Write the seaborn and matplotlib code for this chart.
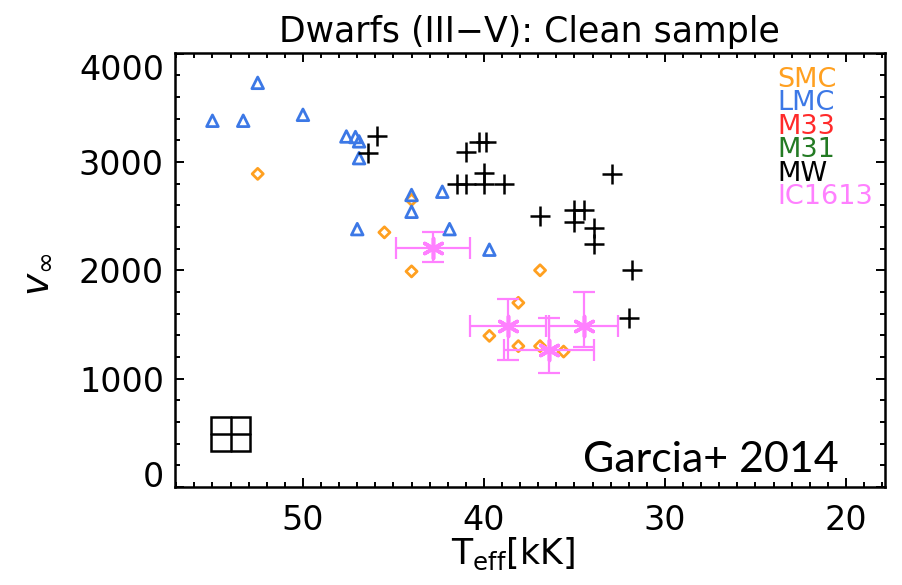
import matplotlib
matplotlib.use("Agg")
import matplotlib.pyplot as plt
import numpy as np
import pandas as pd
import seaborn as sns
from matplotlib.patches import Rectangle
from matplotlib.ticker import MultipleLocator

# --- data: effective temperature [kK] and terminal wind velocity [km/s] ---
smc_teff = [52.5, 45.5, 44.0, 44.0, 36.9, 38.1, 39.7, 38.1, 36.9, 35.6]
smc_vinf = [2890, 2350, 2650, 1990, 2000, 1700, 1395, 1300, 1300, 1250]

lmc_teff = [52.5, 55.0, 53.3, 50.0, 47.6, 47.1, 46.9, 46.9, 44.0, 44.0,
            42.3, 47.0, 41.9, 39.7]
lmc_vinf = [3730, 3380, 3380, 3435, 3235, 3230, 3190, 3035, 2695, 2540,
            2725, 2380, 2380, 2190]

mw_teff = [45.9, 46.4, 41.0, 40.3, 39.9, 41.5, 41.0, 40.0, 38.9, 40.0,
           36.9, 35.0, 34.5, 35.0, 33.9, 33.9, 32.9, 31.8, 32.0]
mw_vinf = [3240, 3080, 3095, 3185, 3185, 2800, 2800, 2800, 2800, 2900,
           2505, 2557, 2557, 2446, 2391, 2243, 2890, 2003, 1557]

ic_teff = [42.8, 38.65, 36.4, 34.5]
ic_vinf = [2205, 1486, 1260, 1486]
ic_teff_err = [2.05, 2.1, 2.5, 1.9]
ic_vinf_err_lo = [125, 315, 210, 195]
ic_vinf_err_hi = [150, 245, 300, 310]

# typical uncertainty box
box_teff = [52.9, 55.1]
box_vinf = [330, 646]

galaxies = ["SMC", "LMC", "M33", "M31", "MW", "IC1613"]
galaxy_colors = ["#FFA020", "#3C78E6", "#FF2A2A", "#237A23", "#000000", "#FF80FF"]

x_ticks = [50, 40, 30, 20]
y_ticks = [0, 1000, 2000, 3000, 4000]

sns.set_theme(style="white")
plt.rcParams["font.family"] = ["DejaVu Sans"]
plt.rcParams["mathtext.fontset"] = "dejavusans"
plt.rcParams["text.color"] = "black"
plt.rcParams["axes.labelcolor"] = "black"

col = dict(zip(galaxies, galaxy_colors))

fig = plt.figure(figsize=(9.02, 5.85), dpi=100)
ax = fig.add_axes([0.194, 0.1675, 0.787, 0.742])


def hollow(color, lw):
    c = ax.collections[-1]
    c.set_facecolor("none")
    c.set_edgecolor(color)
    c.set_linewidth(lw)


smc = pd.DataFrame({"teff": smc_teff, "vinf": smc_vinf})
lmc = pd.DataFrame({"teff": lmc_teff, "vinf": lmc_vinf})
mw = pd.DataFrame({"teff": mw_teff, "vinf": mw_vinf})
ic = pd.DataFrame({"teff": ic_teff, "vinf": ic_vinf})

sns.scatterplot(data=smc, x="teff", y="vinf", marker="D", s=32, color=col["SMC"],
                ax=ax, legend=False, zorder=3)
hollow(col["SMC"], 2.0)

sns.scatterplot(data=lmc, x="teff", y="vinf", marker="^", s=70, color=col["LMC"],
                ax=ax, legend=False, zorder=4)
hollow(col["LMC"], 2.0)

sns.scatterplot(data=mw, x="teff", y="vinf", marker="+", s=190, color=col["MW"],
                linewidth=1.8, ax=ax, legend=False, zorder=5)

ax.errorbar(ic["teff"], ic["vinf"], xerr=ic_teff_err,
            yerr=[ic_vinf_err_lo, ic_vinf_err_hi], fmt="none",
            ecolor=col["IC1613"], elinewidth=1.6, capsize=8, capthick=1.6, zorder=6)
sns.scatterplot(data=ic, x="teff", y="vinf", marker=(6, 2, 0), s=210,
                color=col["IC1613"], linewidth=2.6, ax=ax, legend=False, zorder=7)
c = ax.collections[-1]
c.set_edgecolor(col["IC1613"])
c.set_linewidth(2.6)

# uncertainty box with cross
ax.add_patch(Rectangle((box_teff[0], box_vinf[0]), box_teff[1] - box_teff[0],
                       box_vinf[1] - box_vinf[0], fill=False, ec="black", lw=1.8, zorder=5))
ax.plot([np.mean(box_teff)] * 2, box_vinf, color="black", lw=1.8)
ax.plot(box_teff, [np.mean(box_vinf)] * 2, color="black", lw=1.8)

ax.set_xlim(57.07, 17.85)
ax.set_ylim(0, 4006)

ax.set_xticks(x_ticks)
ax.set_yticks(y_ticks)
ax.xaxis.set_minor_locator(MultipleLocator(1))
ax.yaxis.set_minor_locator(MultipleLocator(200))
ax.tick_params(which="both", direction="in", top=True, right=True, bottom=True,
               left=True, width=1.4, colors="black", labelsize=24)
ax.tick_params(which="major", length=6.5, pad=12)
ax.tick_params(which="minor", length=3.6)
ax.tick_params(axis="y", pad=8)
for s in ax.spines.values():
    s.set_linewidth(1.8)
    s.set_color("black")

ylabels = ax.get_yticklabels()
ylabels[0].set_va("baseline")
ylabels[-1].set_va("top")

ax.set_xlabel(r"T$_{\rm eff}$[kK]", fontsize=25)
ax.xaxis.set_label_coords((513 - 175) / 710, -0.155)
ax.xaxis.label.set_va("center")
ax.set_ylabel(r"$v_{\infty}$", fontsize=27)
ax.yaxis.set_label_coords(-0.195, 0.49)
ax.yaxis.label.set_va("center")

ax.set_title("Dwarfs (III\u2212V): Clean sample", fontsize=25, pad=8, color="black")

for i, (name, c) in enumerate(zip(galaxies, galaxy_colors)):
    ax.text(0.848, 0.938 - i * 0.0541, name, color=c, fontsize=19.5,
            transform=ax.transAxes, va="center", ha="left")

ax.text(0.575, 0.035, "Garcia+ 2014", fontsize=31, family=["Lato", "DejaVu Sans"],
        transform=ax.transAxes, ha="left", va="baseline", color="black")

fig.savefig("out.png", dpi=100, facecolor="white")
